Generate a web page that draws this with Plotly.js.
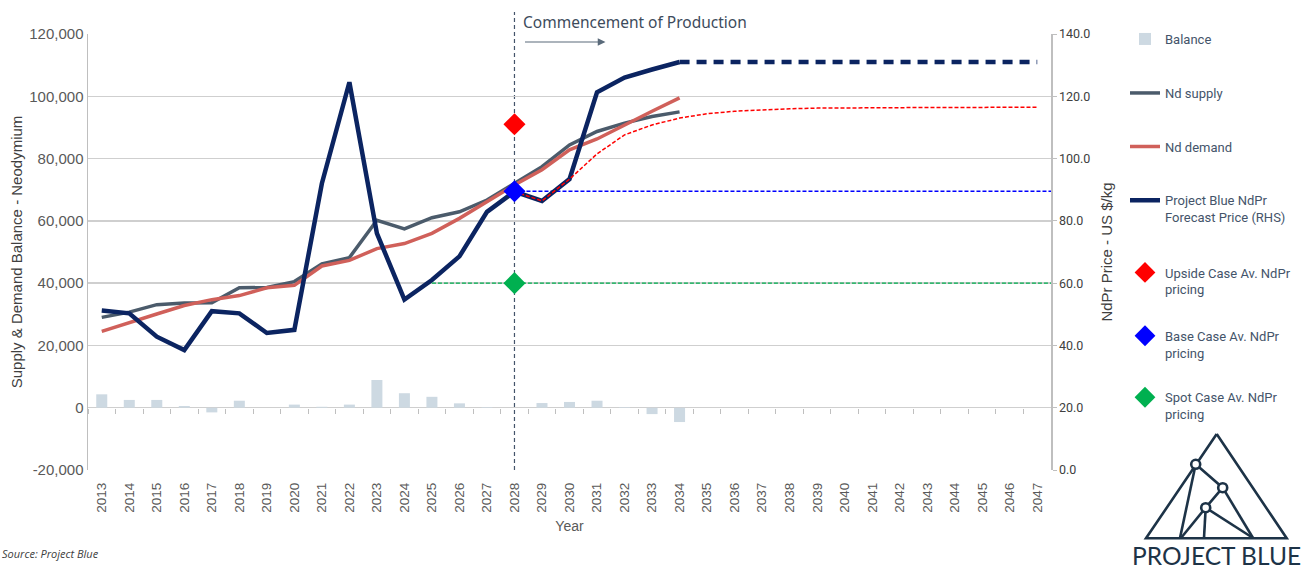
<!DOCTYPE html>
<html><head><meta charset="utf-8">
<script src="https://cdn.plot.ly/plotly-3.0.1.min.js"></script>
<style>html,body{margin:0;padding:0;background:#fff}#chart{width:1308px;height:572px}</style>
</head><body><div id="chart"></div>
<script>
// ---------- data ----------
const years = ['2013','2014','2015','2016','2017','2018','2019','2020','2021','2022','2023','2024',
  '2025','2026','2027','2028','2029','2030','2031','2032','2033','2034','2035','2036','2037','2038',
  '2039','2040','2041','2042','2043','2044','2045','2046','2047'];
const histYears = ['2013','2014','2015','2016','2017','2018','2019','2020','2021','2022','2023','2024',
  '2025','2026','2027','2028','2029','2030','2031','2032','2033','2034'];
const balance = [4300,2500,2500,550,-1500,2250,0,1000,300,1000,8900,4650,3500,1400,200,0,1500,1850,2250,200,-2050,-4600];
const ndSupply = [29000,30700,33100,33600,33700,38500,38600,40500,46200,48200,60200,57400,61000,62900,66700,72000,77400,84400,88700,91400,93500,95000];
const ndDemand = [24500,27400,30100,32800,34700,36000,38500,39300,45500,47300,51100,52700,56000,60800,66100,71500,76400,82800,86300,90900,95200,99500];
const ndprPrice = [51.2,50.3,42.8,38.5,51.0,50.3,44.0,45.0,92.0,124.5,76.0,54.7,61.0,68.6,82.9,89.4,86.4,93.4,121.3,126.0,128.6,131.0];
const longTermYears = ['2034','2035','2036','2037','2038','2039','2040','2041','2042','2043','2044','2045','2046','2047'];
const longTermPrice = [131.0,131.0,131.0,131.0,131.0,131.0,131.0,131.0,131.0,131.0,131.0,131.0,131.0,131.0];
const curveYears = ['2028','2029','2030','2031','2032','2033','2034','2035','2036','2037','2038','2039',
  '2040','2041','2042','2043','2044','2045','2046','2047'];
const curvePrice = [89.4,86.4,93.4,101.5,107.6,110.8,113.0,114.4,115.2,115.7,116.0,116.2,116.3,116.3,116.4,116.4,116.4,116.5,116.5,116.5];
const leftTickVals = [-20000,0,20000,40000,60000,80000,100000,120000];
const leftTickText = ['-20,000','0','20,000','40,000','60,000','80,000','100,000','120,000'];
const productionStart = '2028';
const spotLineStart = '2025';
const upsidePrice = 111.0;
const basePrice = 89.5;
const spotPrice = 60.0;

// ---------- geometry helpers (layout only) ----------
const W = 1308, H = 572, ML = 88, MR = 257, MT = 34, MB = 102;
const PW = W - ML - MR, PH = H - MT - MB;
const px = p => (p - ML) / PW;
const py = p => (H - MB - p) / PH;
const LEFT_MIN = -20000, LEFT_MAX = 120000;
const startIdx = years.indexOf(productionStart);
const spotIdx = years.indexOf(spotLineStart);
const lastEdge = years.length - 0.5;

const navy = '#0b2461', slate = '#4b5b6b', coral = '#d0605a', barCol = '#cdd9e2';
const legendFont = {family: 'Roboto, sans-serif', size: 13, color: '#44546a'};

const traces = [
  {type: 'bar', name: 'Balance', x: histYears, y: balance, xaxis: 'x2', yaxis: 'y',
   marker: {color: barCol}, legend: 'legend', hoverinfo: 'skip'},
  {type: 'scatter', mode: 'lines', name: 'Nd supply', x: histYears, y: ndSupply,
   line: {color: slate, width: 3.5}, legend: 'legend2', hoverinfo: 'skip'},
  {type: 'scatter', mode: 'lines', name: 'Nd demand', x: histYears, y: ndDemand,
   line: {color: coral, width: 3.5}, legend: 'legend3', hoverinfo: 'skip'},
  {type: 'scatter', mode: 'lines', name: 'Project Blue NdPr<br>Forecast Price (RHS)', x: histYears, y: ndprPrice,
   yaxis: 'y2', line: {color: navy, width: 4.5}, legend: 'legend4', hoverinfo: 'skip'},
  {type: 'scatter', mode: 'lines', name: 'long term', x: longTermYears, y: longTermPrice,
   yaxis: 'y2', line: {color: navy, width: 4.5, dash: '10px,7px'}, showlegend: false, hoverinfo: 'skip'},
  {type: 'scatter', mode: 'lines', name: 'curve', x: curveYears, y: curvePrice,
   yaxis: 'y2', line: {color: '#ff0000', width: 1.5, dash: '4px,2px'}, showlegend: false, hoverinfo: 'skip'},
  {type: 'scatter', mode: 'markers', name: 'Upside Case Av. NdPr<br>pricing', x: [productionStart], y: [upsidePrice],
   yaxis: 'y2', marker: {symbol: 'diamond', size: 17, color: '#ff0000'}, legend: 'legend5', hoverinfo: 'skip'},
  {type: 'scatter', mode: 'markers', name: 'Base Case Av. NdPr<br>pricing', x: [productionStart], y: [basePrice],
   yaxis: 'y2', marker: {symbol: 'diamond', size: 17, color: '#0000ff'}, legend: 'legend6', hoverinfo: 'skip'},
  {type: 'scatter', mode: 'markers', name: 'Spot Case Av. NdPr<br>pricing', x: [productionStart], y: [spotPrice],
   yaxis: 'y2', marker: {symbol: 'diamond', size: 17, color: '#00b050'}, legend: 'legend7', hoverinfo: 'skip'}
];

function leg(centerY) {
  return {xanchor: 'left', yanchor: 'middle', x: px(1125), y: py(centerY),
          bgcolor: 'rgba(0,0,0,0)', font: legendFont, valign: 'top', itemwidth: 30};
}

const shapes = [
  {type: 'line', xref: 'x', yref: 'paper', x0: startIdx, x1: startIdx, y0: 0, y1: py(12),
   line: {color: '#44546a', width: 1.2, dash: '4px,3px'}, layer: 'below'},
  {type: 'line', xref: 'x', yref: 'y2', x0: startIdx, x1: lastEdge, y0: basePrice, y1: basePrice,
   line: {color: '#0000ff', width: 1.4, dash: '4px,2px'}, layer: 'below'},
  {type: 'line', xref: 'x', yref: 'y2', x0: spotIdx, x1: lastEdge, y0: spotPrice, y1: spotPrice,
   line: {color: '#00b050', width: 1.4, dash: '4px,2px'}, layer: 'above'}
];

// Project Blue logo (decorative)
const logoCol = '#1d3347';
const lp = (a, b) => px(a) + ' ' + py(b);
const logoLines = [
  [[1216.7,434],[1146,538.3],[1286.7,538.3],[1216.7,434]],
  [[1195.7,464.3],[1180,538]],
  [[1195.7,464.3],[1222.7,487.7],[1205.7,507.7]],
  [[1222.7,487.7],[1253,538]],
  [[1205.7,507.7],[1181,538]],
  [[1205.7,507.7],[1204,538]],
  [[1205.7,507.7],[1253,538]]
];
logoLines.forEach(seg => {
  shapes.push({type: 'path', xref: 'paper', yref: 'paper',
    path: 'M ' + seg.map(p => lp(p[0], p[1])).join(' L '),
    line: {color: logoCol, width: 2.6}, layer: 'above'});
});
[[1195.7,464.3],[1222.7,487.7],[1205.7,507.7]].forEach(n => {
  shapes.push({type: 'circle', xref: 'paper', yref: 'paper',
    x0: px(n[0]-4.5), x1: px(n[0]+4.5), y0: py(n[1]+4.5), y1: py(n[1]-4.5),
    fillcolor: '#ffffff', line: {color: logoCol, width: 2.6}, layer: 'above'});
});

const layout = {
  width: W, height: H,
  margin: {l: ML, r: MR, t: MT, b: MB, pad: 0},
  paper_bgcolor: '#ffffff', plot_bgcolor: '#ffffff',
  font: {family: 'Liberation Sans, Arial, sans-serif', color: '#595959'},
  hovermode: false,
  bargap: 0.6,
  xaxis: {type: 'category', categoryorder: 'array', categoryarray: years, range: [-0.5, years.length - 0.5],
    tickangle: -90, ticks: '', showgrid: false, showline: false, zeroline: false, ticklabelstandoff: 9,
    tickfont: {size: 13.5, color: '#595959'},
    title: {text: 'Year', font: {size: 14, color: '#595959'}, standoff: 9}},
  xaxis2: {type: 'category', categoryorder: 'array', categoryarray: years, range: [-0.5, years.length - 0.5],
    overlaying: 'x', anchor: 'free', position: (0 - LEFT_MIN) / (LEFT_MAX - LEFT_MIN),
    tickson: 'boundaries', ticks: 'outside', ticklen: 5, tickwidth: 1, tickcolor: '#bfbfbf',
    showticklabels: false, showgrid: false, showline: false, zeroline: false},
  yaxis: {range: [LEFT_MIN, LEFT_MAX], tickmode: 'array', tickvals: leftTickVals, ticktext: leftTickText,
    showgrid: true, gridcolor: '#cfcfcf', gridwidth: 1.5, zeroline: false, showline: true,
    linecolor: '#bfbfbf', linewidth: 1.5,
    tickfont: {size: 15, color: '#595959'},
    title: {text: 'Supply & Demand Balance - Neodymium', font: {size: 15, color: '#404040'}, standoff: 3}},
  yaxis2: {overlaying: 'y', side: 'right', range: [0, 140], dtick: 20, tickformat: '.1f',
    showgrid: false, zeroline: false, showline: true, linecolor: '#bfbfbf', linewidth: 1.5,
    ticks: 'outside', ticklen: 4, tickcolor: '#bfbfbf',
    tickfont: {family: 'Roboto, sans-serif', size: 12.5, color: '#404040'},
    title: {text: 'NdPr Price - US $/kg', font: {size: 15, color: '#404040'}, standoff: 12}},
  legend: leg(39), legend2: leg(93), legend3: leg(146.5), legend4: leg(208.7),
  legend5: leg(281), legend6: leg(344.3), legend7: leg(405.8),
  shapes: shapes,
  annotations: [
    {xref: 'x', yref: 'paper', x: startIdx, y: py(22), xanchor: 'left', yanchor: 'middle', xshift: 7,
     text: 'Commencement of Production', showarrow: false,
     font: {family: 'Noto Sans, sans-serif', size: 15.5, color: '#3d4b5c'}},
    {xref: 'x', yref: 'paper', x: startIdx, y: py(42), xshift: 91, text: '', showarrow: true,
     ax: -82, ay: 0, arrowhead: 2, arrowsize: 1.4, arrowwidth: 1.1, arrowcolor: '#5a6a7a'},
    {xref: 'paper', yref: 'paper', x: px(0), y: py(553), xanchor: 'left', yanchor: 'middle',
     text: '<i>Source: Project Blue</i>', showarrow: false,
     font: {family: 'Open Sans, sans-serif', size: 11, color: '#404040'}},
    {xref: 'paper', yref: 'paper', x: px(1216), y: py(572), xanchor: 'center', yanchor: 'bottom',
     text: 'PROJECT BLUE', showarrow: false,
     font: {family: 'Lato, sans-serif', size: 24.5, color: logoCol}}
  ]
};

Plotly.newPlot('chart', traces, layout, {displayModeBar: false, staticPlot: true});
</script></body></html>
